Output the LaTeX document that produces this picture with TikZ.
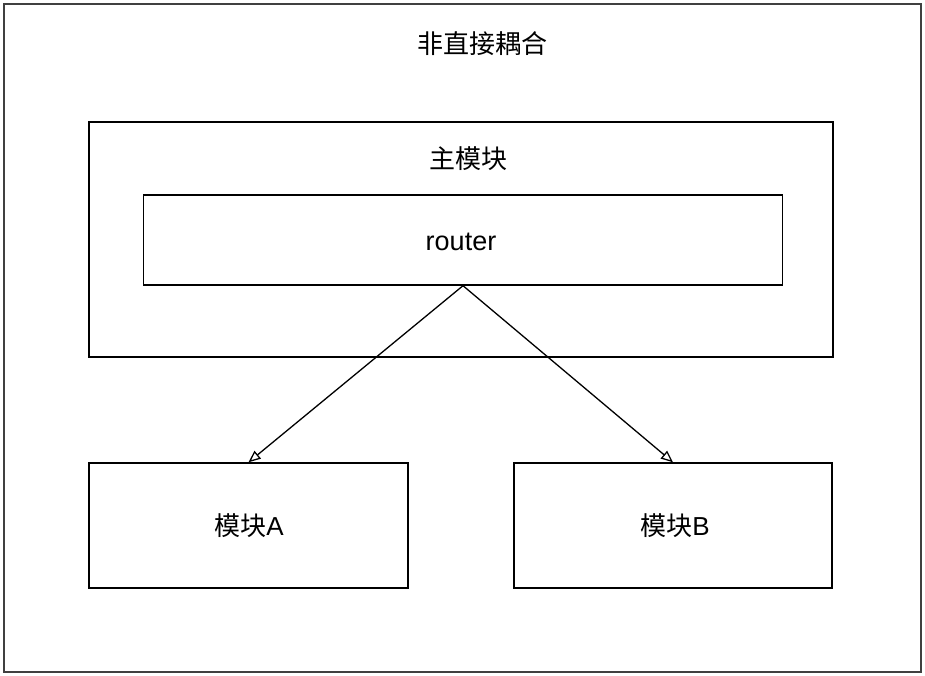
\documentclass[tikz,border=0pt]{standalone}
\usepackage{fontspec}
\setmainfont{Liberation Sans}
\newfontfamily\cjk{Noto Sans CJK SC}
\usetikzlibrary{arrows.meta}
\begin{document}
\begin{tikzpicture}[x=1pt,y=-1pt,
  box/.style={draw=black,line width=1.4pt,inner sep=0pt},
  lbl/.style={font=\fontsize{26}{30}\selectfont,inner sep=0pt},
  conn/.style={draw=black,line width=1.3pt,-{Triangle[open,length=12pt,width=10pt]}}]
\useasboundingbox (0,0) rectangle (925,676);
\draw[line width=1.5pt,draw=black!75] (4,4) rectangle (921,672);
\node[lbl] (title) at (482,44) {\cjk 非直接耦合};
\node[box,minimum width=744,minimum height=235] (main) at (461,239.5) {};
\node[lbl] (mainlbl) at (468,159) {\cjk 主模块};
\node[box,minimum width=639,minimum height=90] (router) at (463,240) {};
\node[lbl,font=\fontsize{27}{30}\selectfont,anchor=base] (rtext) at (461,250) {router};
\node[box,minimum width=319,minimum height=125] (A) at (248.5,525.5) {};
\node[lbl] (Alab) at (249,526) {{\cjk 模块}A};
\node[box,minimum width=318,minimum height=125] (B) at (673,525.5) {};
\node[lbl] (Blab) at (675,526) {{\cjk 模块}B};
\draw[conn] (router.south) -- (A.north);
\draw[conn] (router.south) -- (B.north);
\end{tikzpicture}
\end{document}
